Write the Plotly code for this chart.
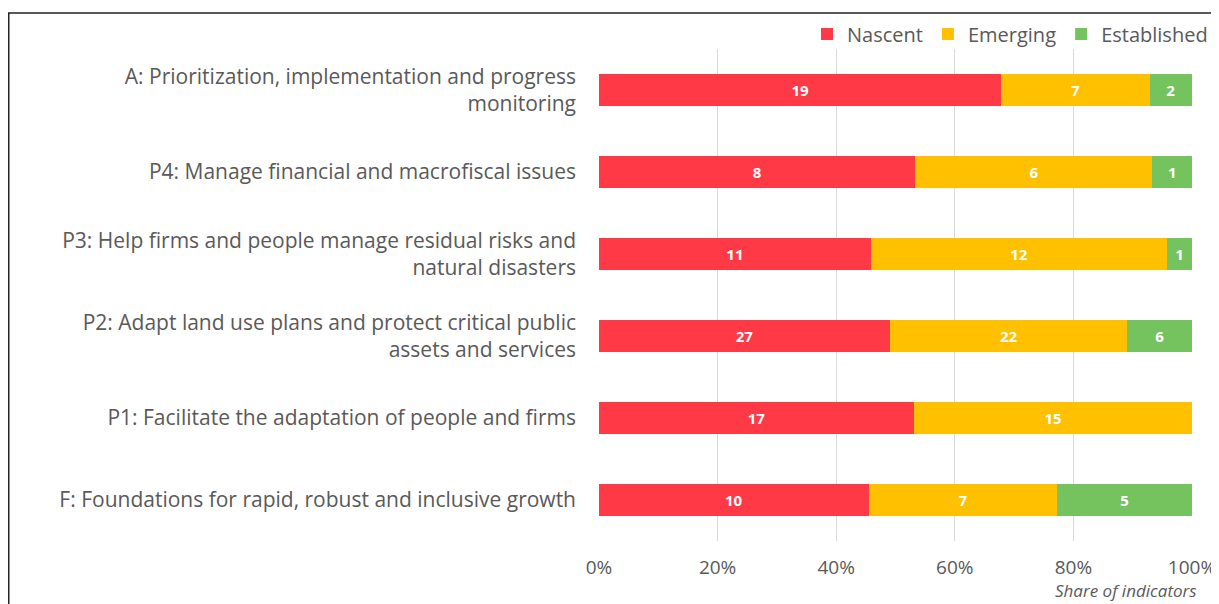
import plotly.graph_objects as go

categories = [
    "F: Foundations for rapid, robust and inclusive growth",
    "P1: Facilitate the adaptation of people and firms",
    "P2: Adapt land use plans and protect critical public<br>assets and services",
    "P3: Help firms and people manage residual risks and<br>natural disasters",
    "P4: Manage financial and macrofiscal issues",
    "A: Prioritization, implementation and progress<br>monitoring",
]
nascent = [10, 17, 27, 11, 8, 19]
emerging = [7, 15, 22, 12, 6, 7]
established = [5, 0, 6, 1, 1, 2]
series_names = ["Nascent", "Emerging", "Established"]
colors = ["#FF3A46", "#FFC000", "#74C35E"]
tick_vals = [0, 0.2, 0.4, 0.6, 0.8, 1.0]
tick_text = ["0%", "20%", "40%", "60%", "80%", "100%"]

totals = [a + b + c for a, b, c in zip(nascent, emerging, established)]
FONT = "Open Sans"

W, H = 1211, 596
L, R, T, B = 591, 27, 41, 63
PW, PH = W - L - R, H - T - B

fig = go.Figure()
for name, vals, col in zip(series_names, [nascent, emerging, established], colors):
    shares = [v / t for v, t in zip(vals, totals)]
    fig.add_trace(go.Bar(
        y=categories, x=shares, name=name, orientation="h",
        marker=dict(color=col, line=dict(width=0)),
        text=[str(v) if v > 0 else "" for v in vals],
        textposition="inside", insidetextanchor="middle",
        textfont=dict(color="white", size=15, family=FONT, weight="bold"),
        hoverinfo="skip",
    ))

fig.update_layout(
    barmode="stack",
    bargap=0.61,
    width=W, height=H,
    margin=dict(l=L, r=R, t=T, b=B, autoexpand=False),
    plot_bgcolor="white", paper_bgcolor="white",
    font=dict(family=FONT, color="#595959", size=20),
    legend=dict(
        orientation="h", xref="container", yref="container",
        x=1205 / W, xanchor="right", y=1 - 26 / H, yanchor="middle",
        font=dict(size=20, color="#595959", family=FONT),
        traceorder="normal",
        bgcolor="rgba(0,0,0,0)",
    ),
    xaxis=dict(
        range=[0, 1.0], tickvals=tick_vals, ticktext=tick_text,
        showgrid=True, gridcolor="#D9D9D9", gridwidth=1,
        zeroline=False, showline=False,
        tickfont=dict(size=19, color="#595959", family=FONT),
        ticks="", ticklabelstandoff=13, fixedrange=True,
        automargin=False,
    ),
    yaxis=dict(
        showgrid=False, showline=False, zeroline=False,
        tickfont=dict(size=21, color="#595959", family=FONT),
        ticks="", ticklabelstandoff=22,
        automargin=False,
    ),
    showlegend=True,
)

fig.add_annotation(
    text="<i>Share of indicators</i>", xref="paper", yref="paper",
    x=(1191 - L) / PW, y=-(569 - (T + PH)) / PH, xanchor="right", yanchor="top",
    showarrow=False,
    font=dict(size=17, color="#595959", family=FONT),
)

# outer frame
fig.add_shape(
    type="rect", xref="paper", yref="paper",
    x0=(0.75 - L) / PW, x1=(1208 - L) / PW,
    y0=-(620 - (T + PH)) / PH, y1=((T + PH) - 5) / PH,
    line=dict(color="#222222", width=1.5), fillcolor="rgba(0,0,0,0)",
    layer="below",
)

fig.write_html("out.html")
